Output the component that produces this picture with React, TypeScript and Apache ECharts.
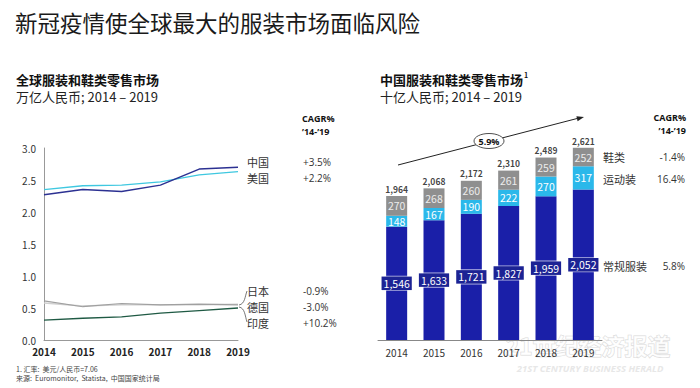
import React, { useEffect, useRef } from "react";
import * as echarts from "echarts";

const years = ["2014", "2015", "2016", "2017", "2018", "2019"];
const leftTicks = [0, 3, 0.5];
const china = [2.27, 2.35, 2.32, 2.42, 2.67, 2.7];
const usa = [2.35, 2.41, 2.42, 2.47, 2.58, 2.63];
const japan = [0.58, 0.53, 0.55, 0.55, 0.55, 0.56];
const germany = [0.61, 0.52, 0.57, 0.55, 0.56, 0.55];
const india = [0.31, 0.34, 0.36, 0.42, 0.46, 0.5];
const leftNames = ["中国", "美国", "日本", "德国", "印度"];
const leftCagr = ["+3.5%", "+2.2%", "-0.9%", "-3.0%", "+10.2%"];

const regular = [1546, 1633, 1721, 1827, 1959, 2052];
const sports = [148, 167, 190, 222, 270, 317];
const footwear = [270, 268, 260, 261, 259, 252];
const totals = [1964, 2068, 2172, 2310, 2489, 2621];
const rightNames = ["鞋类", "运动装", "常规服装"];
const rightCagr = ["-1.4%", "16.4%", "5.8%"];
const overallCagr = "5.9%";

const FONT = "'Noto Sans CJK SC', 'Open Sans', sans-serif";
const LATIN = "'Open Sans', 'Noto Sans', sans-serif";
const fmt = (v: number) => v.toLocaleString("en-US");

export default function App() {
  const ref = useRef<HTMLDivElement>(null);
  useEffect(() => {
    if (!ref.current) return;
    const chart = echarts.init(ref.current, null, { renderer: "svg" });
    const txt = (x: number, y: number, text: string, extra: any = {}) => ({
      type: "text",
      x,
      y,
      style: {
        text,
        fontFamily: FONT,
        fontSize: 11,
        fill: "#333",
        verticalAlign: "middle",
        ...extra,
      },
    });
    const leftYs = [162, 178, 291, 307, 323];
    const rightYs = [157, 179, 266];
    const head = { fontSize: 9, fontWeight: "bold", fill: "#111", fontFamily: LATIN };
    const graphic: any[] = [
      txt(15, 22, "新冠疫情使全球最大的服装市场面临风险", { fontSize: 22.5, fill: "#1a1a1a" }),
      txt(16, 79, "全球服装和鞋类零售市场", { fontSize: 13, fontWeight: "bold", fill: "#111" }),
      txt(16, 96, "万亿人民币; 2014 – 2019", { fontSize: 13, fill: "#222" }),
      txt(380, 79, "中国服装和鞋类零售市场", { fontSize: 13, fontWeight: "bold", fill: "#111" }),
      txt(524, 75, "1", { fontSize: 7, fontWeight: "bold", fill: "#111" }),
      txt(380, 96, "十亿人民币; 2014 – 2019", { fontSize: 13, fill: "#222" }),
      txt(302, 118, "CAGR%", head),
      txt(302, 131, "’14-’19", head),
      txt(686, 117, "CAGR%", { ...head, align: "right" }),
      txt(686, 130, "’14-’19", { ...head, align: "right" }),
      txt(16, 369, "1. 汇率:  美元/人民币=7.06", { fontSize: 7, fill: "#444" }),
      txt(16, 378, "来源:  Euromonitor,  Statista,  中国国家统计局", { fontSize: 7, fill: "#444" }),
      {
        type: "bezierCurve",
        shape: { x1: 239, y1: 305, x2: 247, y2: 291, cpx1: 245, cpy1: 304, cpx2: 245, cpy2: 296 },
        style: { stroke: "#555", lineWidth: 0.8, fill: "none" },
      },
      {
        type: "bezierCurve",
        shape: { x1: 239, y1: 307, x2: 247, y2: 322, cpx1: 245, cpy1: 308, cpx2: 245, cpy2: 316 },
        style: { stroke: "#555", lineWidth: 0.8, fill: "none" },
      },
      {
        type: "line",
        shape: { x1: 398, y1: 165, x2: 579, y2: 118 },
        style: { stroke: "#222", lineWidth: 1 },
      },
      {
        type: "polygon",
        shape: { points: [[584, 117], [577.6, 121.2], [576.4, 116.2]] },
        style: { fill: "#222" },
      },
      {
        type: "ellipse",
        shape: { cx: 489, cy: 141, rx: 15, ry: 7.5 },
        style: { fill: "#fff", stroke: "#222", lineWidth: 0.8 },
      },
      txt(489, 141.5, overallCagr, { ...head, align: "center" }),
      txt(588, 345, "21世纪经济报道", {
        fontSize: 23,
        fontWeight: "bold",
        fill: "rgba(255,255,255,0.75)",
        stroke: "rgba(190,190,190,0.6)",
        lineWidth: 1,
        align: "center",
      }),
      txt(590, 368, "21ST CENTURY BUSINESS HERALD", {
        fontSize: 9.5,
        fontStyle: "italic",
        fontWeight: "bold",
        fontFamily: LATIN,
        fill: "rgba(225,225,225,0.8)",
        align: "center",
      }),
    ];
    leftNames.forEach((n, i) => {
      graphic.push(txt(247, leftYs[i], n, { fontSize: 11 }));
      graphic.push(txt(303, leftYs[i], leftCagr[i], { fontSize: 10, fontFamily: LATIN }));
    });
    rightNames.forEach((n, i) => {
      graphic.push(txt(603, rightYs[i], n, { fontSize: 11 }));
      graphic.push(txt(685, rightYs[i], rightCagr[i], { fontSize: 10, align: "right", fontFamily: LATIN }));
    });

    const lineSeries = (name: string, data: number[], color: string, width = 1.3) => ({
      type: "line",
      name,
      xAxisIndex: 0,
      yAxisIndex: 0,
      data,
      symbol: "none",
      lineStyle: { color, width },
      z: 3,
    });

    chart.setOption({
      animation: false,
      backgroundColor: "#fff",
      textStyle: { fontFamily: FONT },
      grid: [
        { left: 44, top: 148, width: 194, height: 192 },
        { left: 378, top: 120, width: 224, height: 220 },
      ],
      xAxis: [
        {
          gridIndex: 0,
          type: "category",
          data: years,
          boundaryGap: false,
          axisLine: { lineStyle: { color: "#999" } },
          axisTick: { show: false },
          axisLabel: { fontSize: 10, fontWeight: "bold", color: "#222", margin: 6 },
        },
        {
          gridIndex: 1,
          type: "category",
          data: years,
          axisLine: { lineStyle: { color: "#888" } },
          axisTick: { show: false },
          axisLabel: { fontSize: 10, color: "#333", margin: 7 },
        },
      ],
      yAxis: [
        {
          gridIndex: 0,
          type: "value",
          min: leftTicks[0],
          max: leftTicks[1],
          interval: leftTicks[2],
          axisLine: { show: true, lineStyle: { color: "#999" } },
          axisTick: { show: false },
          splitLine: { show: false },
          axisLabel: { fontSize: 10, color: "#333", formatter: (v: number) => v.toFixed(1), margin: 8 },
        },
        {
          gridIndex: 1,
          type: "value",
          min: 0,
          max: 3000,
          show: false,
          splitLine: { show: false },
        },
      ],
      series: [
        lineSeries("日本", japan, "#d0d0d0", 1.5),
        lineSeries("德国", germany, "#a0a0a0", 1.2),
        lineSeries("印度", india, "#1f5a44", 1.3),
        lineSeries("美国", usa, "#3fc8e0", 1.3),
        lineSeries("中国", china, "#2c3192", 1.5),
        {
          type: "bar",
          name: "常规服装",
          xAxisIndex: 1,
          yAxisIndex: 1,
          stack: "cn",
          data: regular,
          barWidth: 21,
          itemStyle: { color: "#1a1fa8" },
          label: {
            show: true,
            position: "inside",
            formatter: (p: any) => fmt(p.value),
            color: "#fff",
            fontSize: 10.5,
            backgroundColor: "#1c2394",
            borderColor: "rgba(255,255,255,0.7)",
            borderWidth: 0.8,
            padding: [2, 2, 1, 2],
          },
        },
        {
          type: "bar",
          name: "运动装",
          xAxisIndex: 1,
          yAxisIndex: 1,
          stack: "cn",
          data: sports,
          barWidth: 21,
          itemStyle: { color: "#2bb8ea" },
          label: { show: true, position: "inside", color: "#fff", fontSize: 10.5 },
        },
        {
          type: "bar",
          name: "鞋类",
          xAxisIndex: 1,
          yAxisIndex: 1,
          stack: "cn",
          data: footwear,
          barWidth: 21,
          itemStyle: { color: "#8f8f8f" },
          label: { show: true, position: "inside", color: "#ececec", fontSize: 10.5 },
        },
        {
          type: "scatter",
          name: "合计",
          xAxisIndex: 1,
          yAxisIndex: 1,
          data: totals,
          symbolSize: 0,
          label: {
            show: true,
            position: "top",
            distance: 3,
            formatter: (p: any) => fmt(p.value),
            color: "#111",
            fontSize: 8.5,
            fontWeight: "bold",
          },
        },
      ],
      graphic,
    });
    return () => chart.dispose();
  }, []);
  return (
    <div
      ref={ref}
      style={{ position: "fixed", left: 0, top: 0, width: 700, height: 388, background: "#fff" }}
    />
  );
}
